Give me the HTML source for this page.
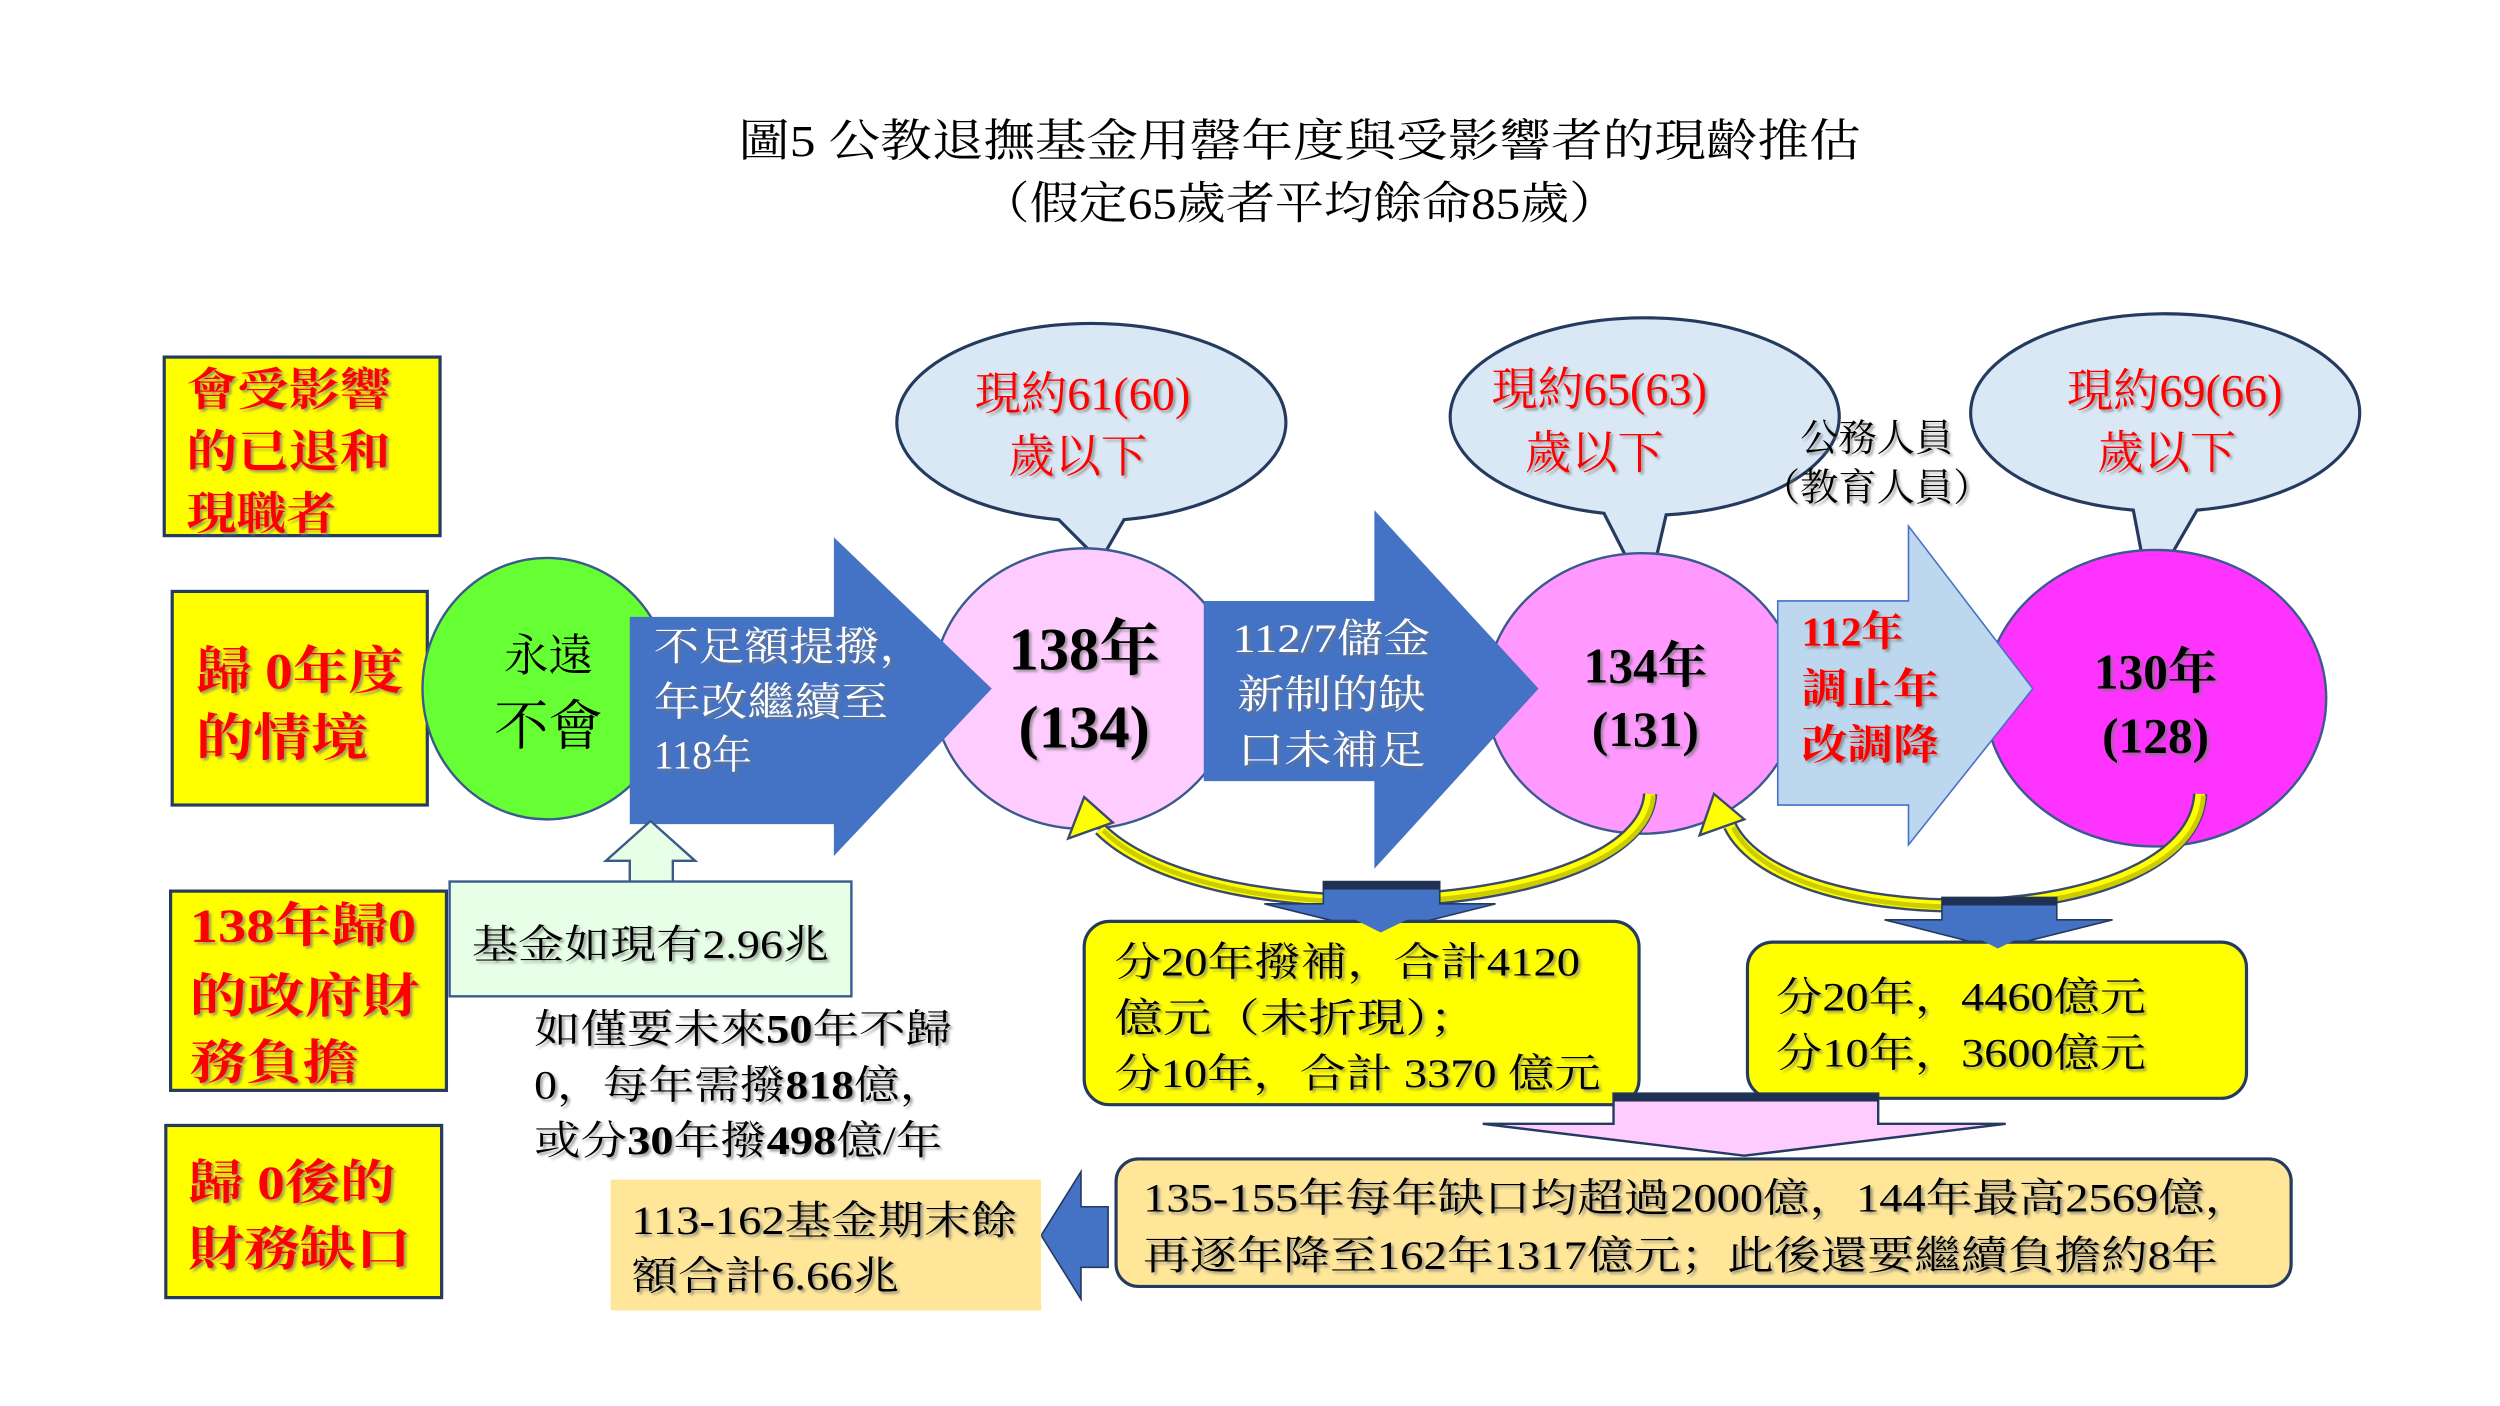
<!DOCTYPE html>
<html><head><meta charset="utf-8"><style>
html,body{margin:0;padding:0;background:#fff;}
svg{display:block;}
text{font-family:"Liberation Serif","Noto Serif CJK SC",serif;}
.r{fill:#ff0000;font-weight:bold;}
.w{fill:#fff;}
.b{fill:#000;}
</style></head><body>
<svg width="2500" height="1406" viewBox="0 0 1568 882" preserveAspectRatio="none" xmlns="http://www.w3.org/2000/svg">
<defs>
<filter id="sh" x="-10%" y="-10%" width="130%" height="130%"><feDropShadow dx="1.5" dy="1.5" stdDeviation="0.8" flood-color="#777" flood-opacity="0.7"/></filter>
</defs>
<rect width="1568" height="882" fill="#fff"/>
<!-- title -->
<text x="815" y="98" font-size="28" text-anchor="middle" textLength="704" lengthAdjust="spacingAndGlyphs">圖5 公教退撫基金用罄年度與受影響者的現齡推估</text>
<text x="815" y="137" font-size="28" text-anchor="middle" textLength="400" lengthAdjust="spacingAndGlyphs">（假定65歲者平均餘命85歲）</text>

<!-- left yellow boxes -->
<g stroke="#243a5e" stroke-width="2" fill="#ffff00">
<rect x="103" y="224" width="173" height="112"/>
<rect x="108" y="371" width="160" height="134"/>
<rect x="107" y="559" width="173" height="125"/>
<rect x="104" y="706" width="173" height="108"/>
</g>
<g class="r" filter="url(#sh)">
<text x="117" y="254" font-size="28" textLength="128" lengthAdjust="spacingAndGlyphs">會受影響</text>
<text x="117" y="293" font-size="28" textLength="128" lengthAdjust="spacingAndGlyphs">的已退和</text>
<text x="117" y="332" font-size="28" textLength="94" lengthAdjust="spacingAndGlyphs">現職者</text>
<text x="123" y="432" font-size="32" textLength="130" lengthAdjust="spacingAndGlyphs">歸 0年度</text>
<text x="123" y="474" font-size="32" textLength="108" lengthAdjust="spacingAndGlyphs">的情境</text>
<text x="119" y="591" font-size="30" textLength="142" lengthAdjust="spacingAndGlyphs">138年歸0</text>
<text x="119" y="635" font-size="30" textLength="144" lengthAdjust="spacingAndGlyphs">的政府財</text>
<text x="119" y="677" font-size="30" textLength="106" lengthAdjust="spacingAndGlyphs">務負擔</text>
<text x="118" y="752" font-size="30" textLength="130" lengthAdjust="spacingAndGlyphs">歸 0後的</text>
<text x="118" y="794" font-size="30" textLength="140" lengthAdjust="spacingAndGlyphs">財務缺口</text>
</g>

<!-- green ellipse -->
<ellipse cx="343" cy="432" rx="78" ry="82" fill="#66ff33" stroke="#3a5a8c" stroke-width="1.5"/>
<text x="344" y="421" font-size="28" text-anchor="middle">永遠</text>
<text x="344" y="467" font-size="34" text-anchor="middle">不會</text>

<!-- speech bubbles -->
<g fill="#dae8f5" stroke="#243a5e" stroke-width="2">
<path d="M664,326 A122,62 0 1 1 705,326 L690,352 Z"/>
<path d="M1006,322 A122,62 0 1 1 1045,323 L1033,375 Z"/>
<path d="M1338,320 A122,62 0 1 1 1378,320 L1348,372 Z"/>
</g>
<g class="r" filter="url(#sh)" text-anchor="middle">
<text x="679" y="257" font-size="29" style="font-weight:normal">現約61(60)</text>
<text x="676" y="296" font-size="29" style="font-weight:normal">歲以下</text>
<text x="1003" y="254" font-size="29" style="font-weight:normal">現約65(63)</text>
<text x="1000" y="294" font-size="29" style="font-weight:normal">歲以下</text>
<text x="1364" y="255" font-size="29" style="font-weight:normal">現約69(66)</text>
<text x="1359" y="294" font-size="29" style="font-weight:normal">歲以下</text>
</g>
<text x="1177" y="283" font-size="24" text-anchor="middle" filter="url(#sh)">公務人員</text>
<text x="1177" y="314" font-size="24" text-anchor="middle" filter="url(#sh)">（教育人員）</text>

<!-- pink circles -->
<ellipse cx="680" cy="432" rx="95" ry="88" fill="#ffccff" stroke="#3a5a8c" stroke-width="1.5"/>
<ellipse cx="1030" cy="435" rx="98" ry="88" fill="#ff99ff" stroke="#3a5a8c" stroke-width="1.5"/>
<ellipse cx="1352" cy="438" rx="107" ry="93" fill="#ff33ff" stroke="#3a5a8c" stroke-width="1.5"/>

<!-- arrows -->
<path d="M395,387 L523,387 L523,337 L622,432 L523,537 L523,517 L395,517 Z" fill="#4472c4"/>
<path d="M755,377 L862,377 L862,320 L965,432 L862,545 L862,490 L755,490 Z" fill="#4472c4"/>
<path d="M1115,377 L1197,377 L1197,330 L1275,432 L1197,530 L1197,505 L1115,505 Z" fill="#bdd7ee" stroke="#4472c4" stroke-width="1"/>

<g class="w" font-size="25" filter="url(#sh)">
<text x="410" y="414" textLength="170" lengthAdjust="spacingAndGlyphs">不足額提撥，</text>
<text x="410" y="449" textLength="147" lengthAdjust="spacingAndGlyphs">年改繼續至</text>
<text x="410" y="482">118年</text>
<text x="835" y="409" text-anchor="middle" textLength="124" lengthAdjust="spacingAndGlyphs">112/7儲金</text>
<text x="835" y="444" text-anchor="middle" textLength="118" lengthAdjust="spacingAndGlyphs">新制的缺</text>
<text x="835" y="479" text-anchor="middle" textLength="118" lengthAdjust="spacingAndGlyphs">口未補足</text>
</g>
<g class="r" font-size="26" filter="url(#sh)">
<text x="1130" y="405">112年</text>
<text x="1130" y="441" textLength="86" lengthAdjust="spacingAndGlyphs">調止年</text>
<text x="1130" y="476" textLength="86" lengthAdjust="spacingAndGlyphs">改調降</text>
</g>
<g font-weight="bold" text-anchor="middle" filter="url(#sh)">
<text x="680" y="420" font-size="38">138年</text>
<text x="680" y="469" font-size="38">(134)</text>
<text x="1032" y="428" font-size="31">134年</text>
<text x="1032" y="468" font-size="31">(131)</text>
<text x="1352" y="432" font-size="31">130年</text>
<text x="1352" y="472" font-size="31">(128)</text>
</g>

<!-- yellow curved arrows -->
<g fill="none">
<path d="M1035,498 C1030,575 760,590 690,520" stroke="#3a4a6a" stroke-width="9"/>
<path d="M1035,498 C1030,575 760,590 690,520" stroke="#ffff00" stroke-width="6"/>
<path d="M1035,498 C1030,575 760,590 690,520" stroke="#cccc00" stroke-width="3" transform="translate(2,1)"/>
<path d="M1380,498 C1375,585 1120,590 1085,518" stroke="#3a4a6a" stroke-width="9"/>
<path d="M1380,498 C1375,585 1120,590 1085,518" stroke="#ffff00" stroke-width="6"/>
<path d="M1380,498 C1375,585 1120,590 1085,518" stroke="#cccc00" stroke-width="3" transform="translate(2,1)"/>
</g>
<path d="M680,500 L670,526 L698,516 Z" fill="#ffff00" stroke="#3a4a6a" stroke-width="1.5"/>
<path d="M1075,498 L1066,524 L1094,514 Z" fill="#ffff00" stroke="#3a4a6a" stroke-width="1.5"/>

<!-- down blue arrows -->
<path d="M830,553 L903,553 L903,567 L938,567 L866,585 L793,567 L830,567 Z" fill="#4472c4" stroke="#243a5e" stroke-width="1"/>
<rect x="830" y="553" width="73" height="5" fill="#1f3050"/>
<path d="M1218,563 L1290,563 L1290,577 L1325,577 L1253,595 L1182,577 L1218,577 Z" fill="#4472c4" stroke="#243a5e" stroke-width="1"/>
<rect x="1218" y="563" width="72" height="5" fill="#1f3050"/>

<!-- yellow rounded boxes -->
<rect x="680" y="578" width="348" height="115" rx="16" fill="#ffff00" stroke="#243a5e" stroke-width="2"/>
<rect x="1096" y="591" width="313" height="98" rx="16" fill="#ffff00" stroke="#243a5e" stroke-width="2"/>
<path d="M830,567 L866,585 L903,567" fill="#4472c4"/>
<path d="M1218,577 L1253,595 L1290,577" fill="#4472c4"/>
<g font-size="25" filter="url(#sh)">
<text x="699" y="612" textLength="292" lengthAdjust="spacingAndGlyphs">分20年撥補，合計4120</text>
<text x="699" y="647" textLength="228" lengthAdjust="spacingAndGlyphs">億元（未折現）；</text>
<text x="699" y="682" textLength="305" lengthAdjust="spacingAndGlyphs">分10年，合計 3370 億元</text>
<text x="1114" y="634" textLength="232" lengthAdjust="spacingAndGlyphs">分20年，4460億元</text>
<text x="1114" y="669" textLength="232" lengthAdjust="spacingAndGlyphs">分10年，3600億元</text>
</g>

<!-- pink down arrow -->
<path d="M1012,686 L1178,686 L1178,705 L1258,705 L1094,725 L930,705 L1012,705 Z" fill="#ffccff" stroke="#243a5e" stroke-width="1.5"/>
<rect x="1012" y="686" width="166" height="5" fill="#1f3050"/>

<!-- bottom orange box -->
<rect x="700" y="727" width="737" height="80" rx="14" fill="#ffe699" stroke="#243a5e" stroke-width="2"/>
<g font-size="25" filter="url(#sh)">
<text x="717" y="760" textLength="695" lengthAdjust="spacingAndGlyphs">135-155年每年缺口均超過2000億，144年最高2569億，</text>
<text x="717" y="796" textLength="674" lengthAdjust="spacingAndGlyphs">再逐年降至162年1317億元；此後還要繼續負擔約8年</text>
</g>
<!-- left blue arrow -->
<path d="M695,757 L678,757 L678,735 L653,775 L678,815 L678,795 L695,795 Z" fill="#4472c4" stroke="#243a5e" stroke-width="1"/>
<rect x="383" y="740" width="270" height="82" fill="#ffe699"/>
<g font-size="25" filter="url(#sh)">
<text x="396" y="774" textLength="242" lengthAdjust="spacingAndGlyphs">113-162基金期末餘</text>
<text x="396" y="809" textLength="168" lengthAdjust="spacingAndGlyphs">額合計6.66兆</text>
</g>

<!-- green box and up arrow -->
<path d="M395,553 L395,540 L380,540 L408,515 L436,540 L422,540 L422,553" fill="#e6ffe6" stroke="#3a5a8c" stroke-width="1.5"/>
<rect x="282" y="553" width="252" height="72" fill="#e6ffe6" stroke="#3a5a8c" stroke-width="1.5"/>
<text x="296" y="601" font-size="25" textLength="224" lengthAdjust="spacingAndGlyphs" filter="url(#sh)">基金如現有2.96兆</text>

<g font-size="25" filter="url(#sh)">
<text x="335" y="654" textLength="262" lengthAdjust="spacingAndGlyphs">如僅要未來<tspan font-weight="bold">50</tspan>年不歸</text>
<text x="335" y="689" textLength="258" lengthAdjust="spacingAndGlyphs">0，每年需撥<tspan font-weight="bold">818</tspan>億，</text>
<text x="335" y="724" textLength="256" lengthAdjust="spacingAndGlyphs">或分<tspan font-weight="bold">30</tspan>年撥<tspan font-weight="bold">498</tspan>億/年</text>
</g>
</svg>
</body></html>
